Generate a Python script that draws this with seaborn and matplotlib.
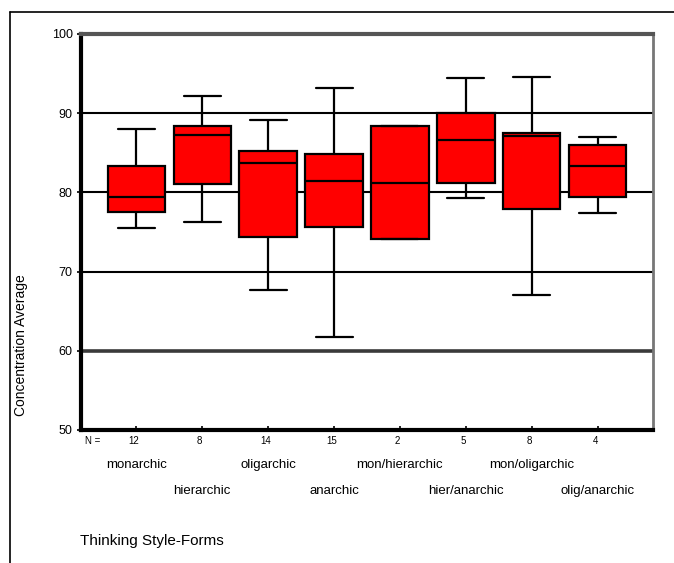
"""Concentration average by thinking style form (box plot)"""

import matplotlib

matplotlib.use("Agg")
import matplotlib.pyplot as plt
import numpy as np
import pandas as pd
import seaborn as sns
from matplotlib.lines import Line2D

# five-number summaries
categories = [
    "monarchic", "hierarchic", "oligarchic", "anarchic",
    "mon/hierarchic", "hier/anarchic", "mon/oligarchic", "olig/anarchic",
]
n_counts = [12, 8, 14, 15, 2, 5, 8, 4]
whisker_low = [75.5, 76.3, 67.7, 61.7, 74.1, 79.3, 67.0, 77.4]
q1 = [77.5, 81.0, 74.4, 75.6, 74.1, 81.2, 77.9, 79.4]
median = [79.4, 87.2, 83.7, 81.4, 81.2, 86.6, 87.1, 83.3]
q3 = [83.3, 88.4, 85.2, 84.8, 88.4, 90.0, 87.5, 86.0]
whisker_high = [88.0, 92.2, 89.1, 93.2, 88.4, 94.4, 94.6, 87.0]
y_ticks = [50, 60, 70, 80, 90, 100]

# long table: the 5 numbers per group reproduce the quartiles exactly
rows = []
for i, cat in enumerate(categories):
    for v in (whisker_low[i], q1[i], median[i], q3[i], whisker_high[i]):
        rows.append({"form": cat, "value": v})
df = pd.DataFrame(rows)

sns.set_style("white")
plt.rcParams["font.family"] = ["Liberation Sans", "DejaVu Sans"]
plt.rcParams["text.color"] = "black"
plt.rcParams["axes.labelcolor"] = "black"
plt.rcParams["ytick.color"] = "black"
plt.rcParams["xtick.color"] = "black"

fig = plt.figure(figsize=(6.74, 5.63), dpi=100)
ax = fig.add_axes([81 / 674, 1 - 430 / 563, 572 / 674, 396 / 563])

for y in y_ticks[1:-1]:
    if y == 60:
        ax.axhline(y, color="#3a3a3a", lw=2.6, zorder=0)
    else:
        ax.axhline(y, color="black", lw=1.5, zorder=0)

sns.boxplot(
    data=df, x="form", y="value", order=categories, ax=ax,
    color="#ff0000", saturation=1, width=0.87, whis=(0, 100),
    linecolor="black", linewidth=1.6, showfliers=False, capwidths=0.56,
)

ax.set_ylim(50, 100)
ax.set_xlim(-0.84, len(categories) - 0.16)
ax.set_yticks(y_ticks)
ax.tick_params(axis="y", labelsize=9, length=3, width=1.2, pad=3, left=True)
ax.tick_params(axis="x", labelbottom=False, length=3, width=1.2, bottom=True, direction="in")
ax.set_xlabel("")
ax.set_ylabel("Concentration Average", fontsize=10)
ax.yaxis.set_label_coords(-0.093, 0.215)

for side in ("left", "bottom"):
    ax.spines[side].set_color("black")
    ax.spines[side].set_linewidth(3)
ax.spines["top"].set_color("#555555")
ax.spines["top"].set_linewidth(3)
ax.spines["right"].set_color("#777777")
ax.spines["right"].set_linewidth(2)

tr = ax.get_xaxis_transform()
ax.text(-0.78, -0.027, "N =", transform=tr, fontsize=7, ha="left", va="center")
for i, (cat, n) in enumerate(zip(categories, n_counts)):
    ax.text(i - 0.04, -0.027, str(n), transform=tr, fontsize=7, ha="center", va="center")
    row_y = -0.088 if i % 2 == 0 else -0.154
    ax.text(i, row_y, cat, transform=tr, fontsize=9.5, ha="center", va="center")

fig.text(80 / 674, 1 - 541 / 563, "Thinking Style-Forms", fontsize=11, ha="left", va="center")

# outer frame around the chart
fig.add_artist(Line2D([10 / 674, 1], [1 - 12 / 563] * 2, color="black", lw=1.2))
fig.add_artist(Line2D([10 / 674] * 2, [0, 1 - 12 / 563], color="black", lw=1.2))

fig.savefig("out.png", dpi=100)
plt.close(fig)
